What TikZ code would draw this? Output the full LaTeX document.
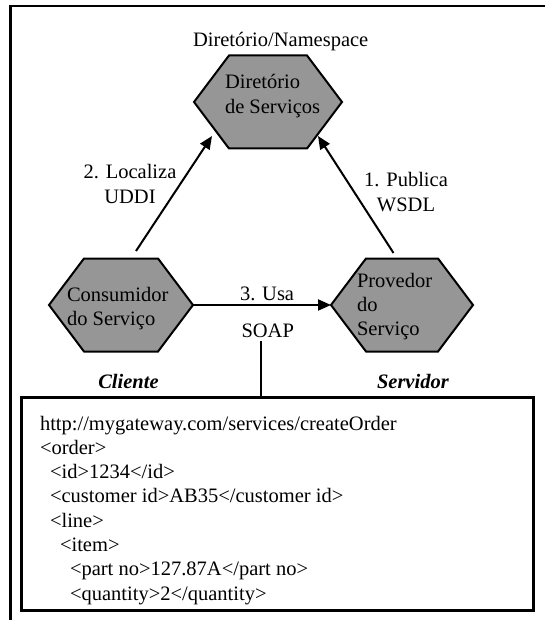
\documentclass[tikz,border=0pt]{standalone}
\usepackage{fontspec}
\setmainfont{Liberation Serif}
\usetikzlibrary{arrows.meta}
\definecolor{hexgray}{RGB}{150,150,150}
\newcommand{\hexoutline}[1]{%
  \draw[hexshape] (#1.west) -- ([xshift=35pt]#1.north west) -- ([xshift=-35pt]#1.north east)
    -- (#1.east) -- ([xshift=-35pt]#1.south east) -- ([xshift=35pt]#1.south west) -- cycle;}
\begin{document}
\begin{tikzpicture}[x=1pt,y=1pt,
  every node/.style={inner sep=0pt, outer sep=0pt, font=\fontsize{20.5}{24.3}\selectfont},
  hexbase/.style={minimum width=#1, minimum height=93pt},
  hexshape/.style={fill=hexgray, draw=black, line width=2pt, line join=miter},
  flow/.style={draw=black, line width=2pt, -{Triangle[length=13pt,width=11pt]}},
  side/.style={font=\fontsize{20.5}{24.3}\selectfont\bfseries\itshape},
  lbl/.style={align=center, anchor=base}
]
\useasboundingbox (0,0) rectangle (545,-620);

% outer frame (open at right and bottom)
\draw[line width=2.5pt, line join=miter] (10.5,-620) -- (10.5,-6) -- (545,-6);

% hexagon frames
\node[hexbase=148pt] (dir)  at (268,-102) {};
\node[hexbase=144pt] (cons) at (121,-305) {};
\node[hexbase=142pt] (prov) at (402,-305) {};
\hexoutline{dir}
\hexoutline{cons}
\hexoutline{prov}

% texts inside the hexagons (anchored on the baseline of their last line)
\node[anchor=base west, align=left] (dirtxt) at (225,-113.3) {Diretório\\de Serviços};
\node[anchor=base west, align=left] (constxt) at (67,-325.3) {Consumidor\\do Serviço};
\node[anchor=base west, align=left] (provtxt) at (357,-335.6) {Provedor\\do\\Serviço};

\node[anchor=base west] (ns) at (193,-47) {Diretório/Namespace};

% publish / find arrows
\coordinate (findA) at (136,-251);
\coordinate (findB) at (212,-136);
\coordinate (pubA)  at (393.5,-253);
\coordinate (pubB)  at (318,-136);
\draw[flow] (findA) -- (findB);
\draw[flow] (pubA) -- (pubB);
\node[lbl] (find) at (130,-203.3) {2. Localiza\\UDDI};
\node[lbl] (pub)  at (406,-211.3) {1. Publica\\WSDL};

% use arrow
\draw[flow] (cons.east) -- (prov.west);
\node[anchor=base west] (usa)  at (240,-300) {3. Usa};
\node[anchor=base west] (soap) at (241.5,-337) {SOAP};

% roles
\node[side, anchor=base] (cli) at (128.5,-388) {Cliente};
\node[side, anchor=base west] (srv) at (377,-388) {Servidor};

% message box
\node[draw=black, line width=3pt, minimum width=511.5pt, minimum height=213pt] (msg) at (277.25,-503.5) {};
\coordinate (tap) at (261,-341);
\draw[line width=2pt] (tap) -- (tap |- msg.north);

\node[anchor=base west, align=left] (xml) at (40,-600.1) {%
http://mygateway.com/services/createOrder\\
<order>\\
\hspace*{10pt}<id>1234</id>\\
\hspace*{10pt}<customer id>AB35</customer id>\\
\hspace*{10pt}<line>\\
\hspace*{20pt}<item>\\
\hspace*{30pt}<part no>127.87A</part no>\\
\hspace*{30pt}<quantity>2</quantity>};
\end{tikzpicture}
\end{document}
